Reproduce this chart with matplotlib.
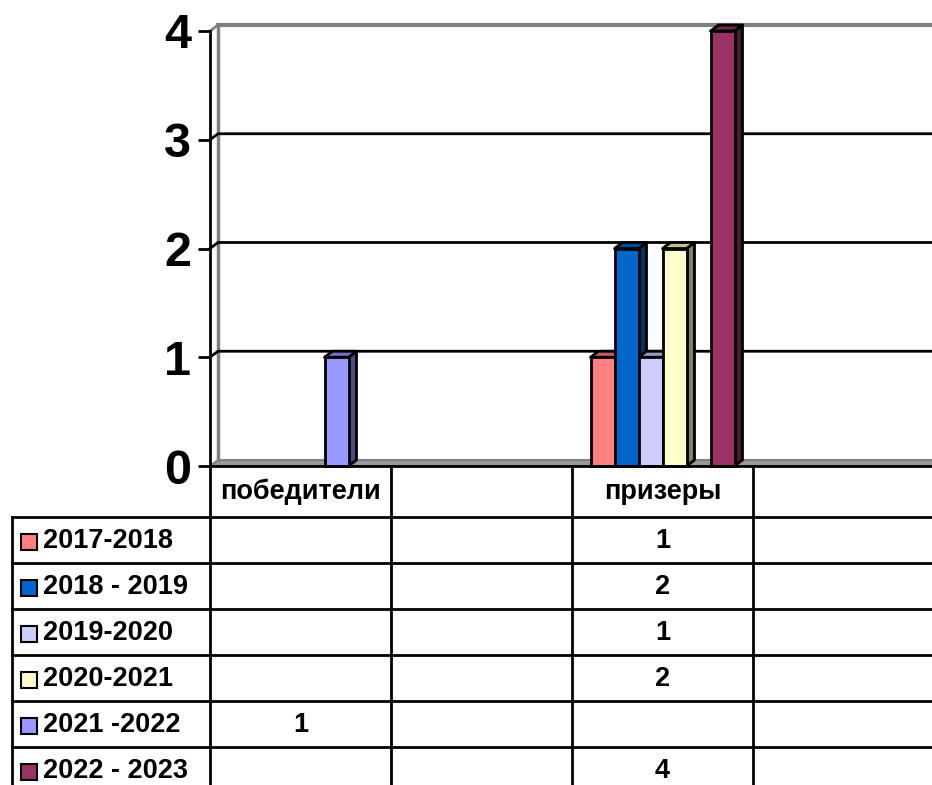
import matplotlib
matplotlib.use('Agg')
import matplotlib.pyplot as plt
from matplotlib.patches import Polygon, Rectangle
from matplotlib.transforms import blended_transform_factory
import numpy as np

plt.rcParams['font.family'] = ['Liberation Sans', 'DejaVu Sans']
plt.rcParams['font.weight'] = 'bold'

categories = ['победители', '', 'призеры', '']
series = ['2017-2018', '2018 - 2019', '2019-2020', '2020-2021', '2021 -2022', '2022 - 2023']
values = [
    [None, None, 1, None],
    [None, None, 2, None],
    [None, None, 1, None],
    [None, None, 2, None],
    [1, None, None, None],
    [None, None, 4, None],
]
yticks = [0, 1, 2, 3, 4]

front = ['#FF8080', '#0066CC', '#CCCCFF', '#FFFFCC', '#9999FF', '#993366']
top = ['#C06060', '#004C99', '#9999C0', '#C0C099', '#7373C0', '#73264C']
side = ['#804040', '#003366', '#666680', '#808066', '#4C4C80', '#4C1933']

W, H = 932, 785
fig = plt.figure(figsize=(W / 100, H / 100), dpi=100)

# main plot area in pixels
x0, x1 = 210, 934
y_top, y_bot = 31, 466
ax = fig.add_axes([x0 / W, 1 - y_bot / H, (x1 - x0) / W, (y_bot - y_top) / H])
ax.set_xlim(-0.5, len(categories) - 0.5)
ax.set_ylim(0, 4)
ax.patch.set_alpha(0)

px_x = len(categories) / (x1 - x0)
px_y = 4 / (y_bot - y_top)
dx, dy = 8 * px_x, 6 * px_y
bw = 24 * px_x
xl, xr = -0.5, len(categories) - 0.5

# walls, floor and gridlines
ax.add_patch(Polygon([(xl, 0), (xr, 0), (xr + dx, dy), (xl + dx, dy)],
                     closed=True, fc='#9a9a9a', ec='#808080', lw=1.5, clip_on=False, zorder=1))
ax.plot([xl + dx, xl + dx], [dy, 4 + dy], color='#808080', lw=2.5, clip_on=False, zorder=1)
ax.plot([xl + dx, xr + dx], [4 + dy, 4 + dy], color='#808080', lw=3, clip_on=False, zorder=1)
ax.plot([xl, xl + dx], [4, 4 + dy], color='#808080', lw=2, clip_on=False, zorder=1)
for v in yticks[1:-1]:
    ax.plot([xl, xl + dx, xr + dx], [v, v + dy, v + dy], color='black', lw=2, clip_on=False, zorder=1)

# bars with 3d faces
n = len(series)
for i, s in enumerate(series):
    for j in range(len(categories)):
        v = values[i][j]
        if v is None:
            continue
        xc = j + (i - (n - 1) / 2) * bw
        xa, xb = xc - bw / 2, xc + bw / 2
        ax.add_patch(Polygon([(xb, 0), (xb + dx, dy), (xb + dx, v + dy), (xb, v)], closed=True,
                             fc=side[i], ec='black', lw=2, joinstyle='round', clip_on=False, zorder=3))
        ax.add_patch(Polygon([(xa, v), (xb, v), (xb + dx, v + dy), (xa + dx, v + dy)], closed=True,
                             fc=top[i], ec='black', lw=2, joinstyle='round', clip_on=False, zorder=3))
        ax.bar(xc, v, width=bw, color=front[i], edgecolor='black', lw=2, zorder=4, clip_on=False)

for k in ['top', 'right', 'bottom']:
    ax.spines[k].set_visible(False)
ax.spines['left'].set_linewidth(2)
ax.spines['left'].set_zorder(5)
ax.set_xticks([])
ax.set_yticks(yticks)
ax.set_yticklabels([str(t) for t in yticks], fontsize=35, fontweight='bold')
ax.tick_params(axis='y', length=8.5, width=2, pad=5, direction='out')

# data table
tab = fig.add_axes([0, 0, 1, 1])
tab.set_xlim(0, W)
tab.set_ylim(H, 0)
tab.axis('off')
tab.patch.set_alpha(0)
bt = blended_transform_factory(ax.transData, tab.transData)

head_top, head_bot = y_bot, 516.5
row_h = 46
lx = 12
fs = 19.5
for j in range(len(categories) + 1):
    tab.plot([j - 0.5, j - 0.5], [head_top, H + 5], color='black', lw=2, transform=bt, clip_on=False)
tab.plot([lx, lx], [head_bot, H + 5], color='black', lw=2, clip_on=False)
tab.plot([x0, W + 5], [head_top, head_top], color='black', lw=2, clip_on=False)
for r in range(len(series)):
    yr = head_bot + r * row_h
    tab.plot([lx, W + 5], [yr, yr], color='black', lw=2, clip_on=False)

for j, c in enumerate(categories):
    tab.text(j, (head_top + head_bot) / 2 + 1, c, transform=bt, ha='center', va='center',
             fontsize=fs, fontweight='bold')

for i, s in enumerate(series):
    yc = head_bot + (i + 0.5) * row_h + 2
    tab.add_patch(Rectangle((21, yc - 8), 16, 16, fc=front[i], ec='black', lw=1.5))
    tab.text(43, yc, s, ha='left', va='center', fontsize=fs, fontweight='bold')
    for j in range(len(categories)):
        v = values[i][j]
        if v is not None:
            tab.text(j, yc, str(v), transform=bt, ha='center', va='center',
                     fontsize=fs, fontweight='bold')

plt.savefig('out.png', dpi=100)
